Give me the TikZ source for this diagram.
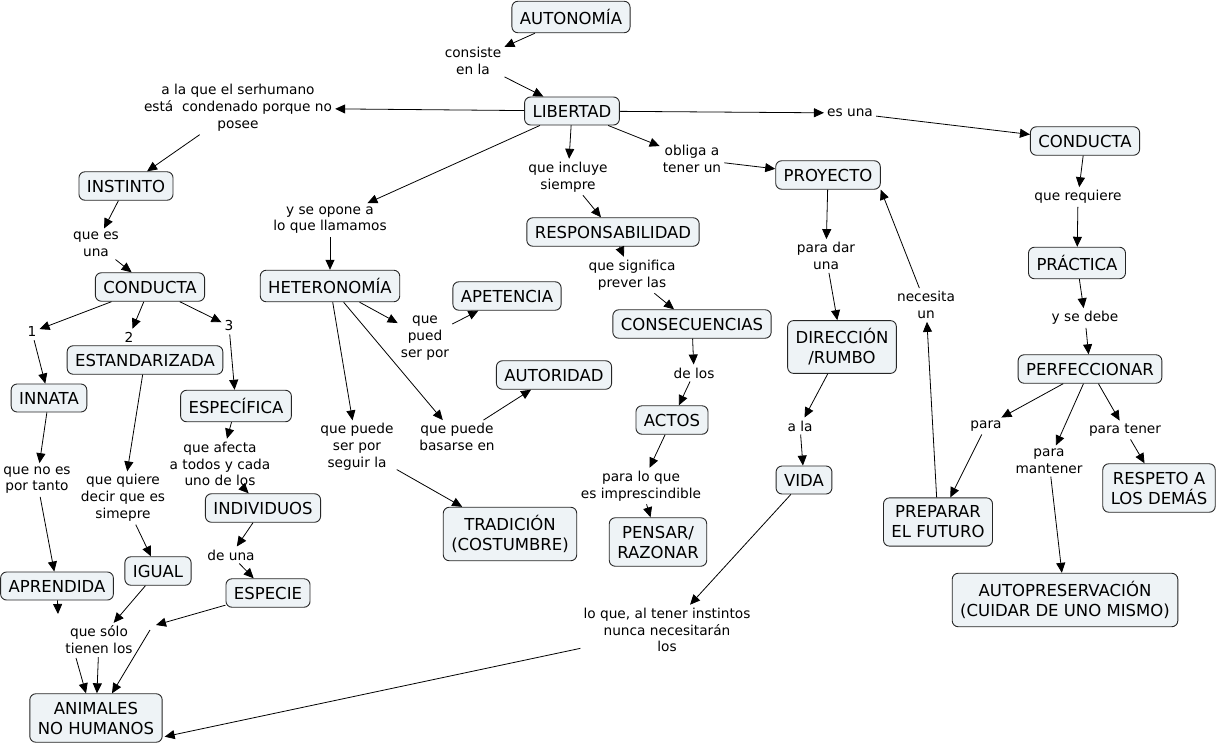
\documentclass[tikz,border=0pt]{standalone}
\usepackage{fontspec}
\setmainfont{DejaVu Sans}
\usetikzlibrary{arrows.meta,calc}
\definecolor{cfill}{HTML}{EEF3F6}
\definecolor{cline}{HTML}{262626}

\begin{document}
\begin{tikzpicture}[x=1pt,y=-1pt,
    concept/.style={draw=cline,fill=cfill,rounded corners=6pt,line width=0.9pt,align=center,
      inner xsep=8pt,inner ysep=8pt,font=\fontsize{16.5}{20}\selectfont},
    linkphrase/.style={align=center,inner sep=3pt,font=\fontsize{13.7}{16.8}\selectfont},
    arr/.style={-{Triangle[length=10pt,width=9pt]},line width=0.8pt}]

\useasboundingbox (0,0) rectangle (1217,744);

% concepts
\node [concept] (autonomia) at (571,17) {AUTONOMÍA};
\node [concept] (libertad) at (572,111) {LIBERTAD};
\node [concept] (conductaR) at (1085,141) {CONDUCTA};
\node [concept] (proyecto) at (828,175) {PROYECTO};
\node [concept] (responsab) at (613,232) {RESPONSABILIDAD};
\node [concept] (practica) at (1077,263) {PRÁCTICA};
\node [concept] (instinto) at (126,186) {INSTINTO};
\node [concept] (conductaL) at (150,287) {CONDUCTA};
\node [concept] (heteronomia) at (330,286) {HETERONOMÍA};
\node [concept] (apetencia) at (507,296) {APETENCIA};
\node [concept] (consecuencias) at (692,324) {CONSECUENCIAS};
\node [concept] (direccion) at (842,347) {DIRECCIÓN\\/RUMBO};
\node [concept] (perfeccionar) at (1090,369) {PERFECCIONAR};
\node [concept] (estandar) at (145,360) {ESTANDARIZADA};
\node [concept] (autoridad) at (554,375) {AUTORIDAD};
\node [concept] (innata) at (49,398) {INNATA};
\node [concept] (especifica) at (236,406) {ESPECÍFICA};
\node [concept] (actos) at (672,420) {ACTOS};
\node [concept] (vida) at (804,480) {VIDA};
\node [concept] (respeto) at (1159,488) {RESPETO A\\LOS DEMÁS};
\node [concept] (individuos) at (263,508) {INDIVIDUOS};
\node [concept] (tradicion) at (510,534) {TRADICIÓN\\(COSTUMBRE)};
\node [concept] (pensar) at (658,542) {PENSAR/\\RAZONAR};
\node [concept] (preparar) at (938,522) {PREPARAR\\EL FUTURO};
\node [concept] (igual) at (158,571) {IGUAL};
\node [concept] (aprendida) at (57,586) {APRENDIDA};
\node [concept] (especie) at (268,593) {ESPECIE};
\node [concept] (autopres) at (1065,600) {AUTOPRESERVACIÓN\\(CUIDAR DE UNO MISMO)};
\node [concept] (animales) at (96,718) {ANIMALES\\NO HUMANOS};

% linking phrases
\node [linkphrase] (lConsiste) at (473,61) {consiste\\en la};
\node [linkphrase] (lCondenado) at (238,108) {a la que el serhumano\\está\ \ condenado porque no\\posee};
\node [linkphrase] (lEsUna) at (850,113) {es una};
\node [linkphrase] (lObliga) at (692,159) {obliga a\\tener un};
\node [linkphrase] (lIncluye) at (568,177) {que incluye\\siempre};
\node [linkphrase] (lOpone) at (330,220) {y se opone a\\lo que llamamos};
\node [linkphrase] (lQueEsUna) at (96,244) {que es\\una};
\node [linkphrase] (lRequiere) at (1078,197) {que requiere};
\node [linkphrase] (lParaDar) at (826,256) {para dar\\una};
\node [linkphrase] (lSignifica) at (632,275) {que significa\\prever las};
\node [linkphrase] (lNecesita) at (926,305) {necesita\\un};
\node [linkphrase] (lSeDebe) at (1085,318) {y se debe};
\node [linkphrase] (lUno) at (32,332) {1};
\node [linkphrase] (lDos) at (129,337) {2};
\node [linkphrase] (lTres) at (229,326) {3};
\node [linkphrase] (lPued) at (425,338) {que\\pued\\ser por};
\node [linkphrase] (lDeLos) at (694,373) {de los};
\node [linkphrase] (lSeguir) at (357,447) {que puede\\ser por\\seguir la};
\node [linkphrase] (lBasarse) at (457,437) {que puede\\basarse en};
\node [linkphrase] (lAfecta) at (220,464) {que afecta\\a todos y cada\\uno de los};
\node [linkphrase] (lNoEs) at (37,480) {que no es\\por tanto};
\node [linkphrase] (lQuiere) at (123,498) {que quiere\\decir que es\\simepre};
\node [linkphrase] (lImprescindible) at (641,486) {para lo que\\es imprescindible};
\node [linkphrase] (lALa) at (800,426) {a la};
\node [linkphrase] (lPara) at (986,426) {para};
\node [linkphrase] (lParaTener) at (1125,430) {para tener};
\node [linkphrase] (lMantener) at (1049,461) {para\\mantener};
\node [linkphrase] (lDeUna) at (231,555) {de una};
\node [linkphrase] (lSolo) at (99,640) {que sólo\\tienen los};
\node [linkphrase] (lNunca) at (667,630) {lo que, al tener instintos\\nunca necesitarán\\los};

\coordinate (soloInL) at (58,614);
\coordinate (soloInR) at (156,625);
\coordinate (soloOutL) at (76,658);
\coordinate (soloOutR) at (150,630);

% connectors
\draw [arr] (autonomia) -- (lConsiste);
\draw [arr] (lConsiste) -- (libertad);
\draw [arr] (libertad) -- (lCondenado);
\draw [arr] (lCondenado) -- (instinto);
\draw [arr] (libertad) -- (lEsUna);
\draw [arr] (lEsUna) -- (conductaR);
\draw [arr] (libertad) -- (lObliga);
\draw [arr] (lObliga) -- (proyecto);
\draw [arr] (libertad) -- (lIncluye);
\draw [arr] (lIncluye) -- (responsab);
\draw [arr] (libertad) -- (lOpone);
\draw [arr] (lOpone) -- (heteronomia);

\draw [arr] (instinto) -- (lQueEsUna);
\draw [arr] (lQueEsUna) -- (conductaL);
\draw [arr] (conductaL) -- (lUno);
\draw [arr] (conductaL) -- (lDos);
\draw [arr] (conductaL) -- (lTres);
\draw [arr] (lUno) -- (innata);
\draw [arr] (lTres) -- (especifica);
\draw [arr] (innata) -- (lNoEs);
\draw [arr] (lNoEs) -- (aprendida);
\draw [arr] (estandar) -- (lQuiere);
\draw [arr] (lQuiere) -- (igual);
\draw [arr] (especifica) -- (lAfecta);
\draw [arr] (lAfecta) -- (individuos);
\draw [arr] (individuos) -- (lDeUna);
\draw [arr] (lDeUna) -- (especie);
\draw [arr] (aprendida) -- (soloInL);
\draw [arr] (igual) -- (lSolo);
\draw [arr] (especie) -- (soloInR);
\draw [arr] (soloOutL) -- ($(animales.north)+(-10,0)$);
\draw [arr] (lSolo) -- (animales);
\draw [arr] (soloOutR) -- ($(animales.north)+(16,0)$);

\draw [arr] (heteronomia) -- (lPued);
\draw [arr] (lPued) -- (apetencia);
\draw [arr] (heteronomia) -- (lBasarse);
\draw [arr] (lBasarse) -- (autoridad);
\draw [arr] (heteronomia) -- (lSeguir);
\draw [arr] (lSeguir) -- (tradicion);

\draw [arr] (responsab) -- (lSignifica);
\draw [arr] (lSignifica) -- (consecuencias);
\draw [arr] (consecuencias) -- (lDeLos);
\draw [arr] (lDeLos) -- (actos);
\draw [arr] (actos) -- (lImprescindible);
\draw [arr] (lImprescindible) -- (pensar);

\draw [arr] (proyecto) -- (lParaDar);
\draw [arr] (lParaDar) -- (direccion);
\draw [arr] (direccion) -- (lALa);
\draw [arr] (lALa) -- (vida);
\draw [arr] (vida) -- (lNunca);
\draw [arr] (lNunca) -- ($(animales.south east)+(2,-6)$);
\draw [arr] (preparar) -- (lNecesita);
\draw [arr] (lNecesita) -- (proyecto.south east);

\draw [arr] (conductaR) -- (lRequiere);
\draw [arr] (lRequiere) -- (practica);
\draw [arr] (practica) -- (lSeDebe);
\draw [arr] (lSeDebe) -- (perfeccionar);
\draw [arr] (perfeccionar) -- (lPara);
\draw [arr] (lPara) -- (preparar);
\draw [arr] (perfeccionar) -- (lMantener);
\draw [arr] (lMantener) -- (autopres);
\draw [arr] (perfeccionar) -- (lParaTener);
\draw [arr] (lParaTener) -- (respeto);

\end{tikzpicture}
\end{document}
